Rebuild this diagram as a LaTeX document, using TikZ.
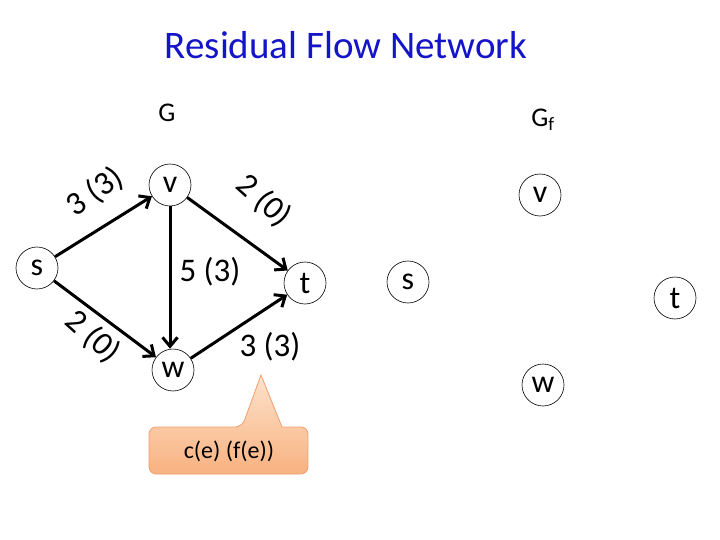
\documentclass[tikz,border=0pt]{standalone}
\usepackage{fontspec}
\setmainfont{Carlito}
\usetikzlibrary{arrows.meta}
\definecolor{titleblue}{RGB}{20,20,200}
\definecolor{calltop}{RGB}{253,226,204}
\definecolor{callbot}{RGB}{248,178,128}
\definecolor{callline}{RGB}{240,160,110}
\tikzset{
  vtx/.style={circle,draw=black,line width=0.6pt,minimum size=42pt,inner sep=0pt,font=\fontsize{32}{34}\selectfont},
  edge/.style={line width=3pt,-{Straight Barb[length=9pt,width=15pt,line width=3pt]}},
  elab/.style={font=\fontsize{33}{36}\selectfont,inner sep=0pt},
}
\begin{document}
\begin{tikzpicture}[x=1pt,y=-1pt]
\useasboundingbox (0,0) rectangle (720,540);
\node[font=\fontsize{39}{44}\selectfont,text=titleblue] (title) at (346,45) {Residual Flow Network};
\node[font=\fontsize{27}{30}\selectfont] (G) at (167,113) {G};
\node[font=\fontsize{27}{30}\selectfont] (Gf) at (543,120) {G\textsubscript{f}};
% left graph
\node[vtx] (s) at (37,268) {s};
\node[vtx] (v) at (170,185) {v};
\node[vtx] (t) at (305,283) {t};
\node[vtx] (w) at (173,370) {w};
\draw[edge] (s) -- (v);
\draw[edge] (v) -- (t);
\draw[edge] (v.south) -- (v.south |- w.north);
\draw[edge] (s) -- (w);
\draw[edge] (w) -- (t);
\node[elab,rotate=35] (l1) at (95,192) {3 (3)};
\node[elab,rotate=-42] (l2) at (264,201) {2 (0)};
\node[elab] (l3) at (210,272) {5 (3)};
\node[elab,rotate=-42] (l4) at (93,337) {2 (0)};
\node[elab] (l5) at (270,347) {3 (3)};
% right graph
\node[vtx] (s2) at (408,282) {s};
\node[vtx] (v2) at (540,195) {v};
\node[vtx] (t2) at (675,298) {t};
\node[vtx] (w2) at (543,385) {w};
% callout
\shade[top color=calltop,bottom color=callbot,draw=callline,line width=0.8pt]
  (149,440) [rounded corners=7pt] -- (149,427) -- (242,427) [sharp corners] -- (261,375) -- (282,427) [rounded corners=7pt] -- (308,427) -- (308,474) -- (149,474) [sharp corners] -- cycle;
\node[font=\fontsize{24}{26}\selectfont] (call) at (229,451) {c(e) (f(e))};
\end{tikzpicture}
\end{document}
